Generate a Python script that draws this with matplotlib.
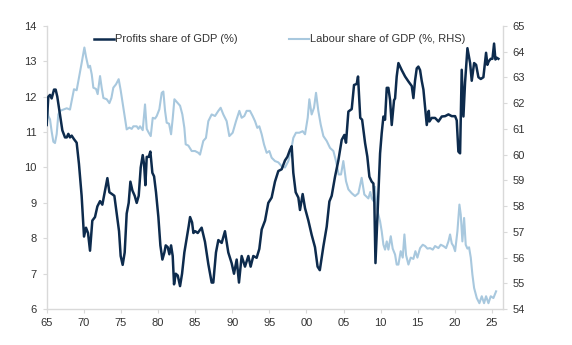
import numpy as np
import matplotlib.pyplot as plt

plt.rcParams['font.family'] = ['Liberation Sans', 'DejaVu Sans']

# Profits share of GDP (%), left axis
profit_year = [1965.0, 1965.22, 1965.45, 1965.67, 1965.99, 1966.21, 1966.43, 1966.79, 1967.11, 1967.47,
               1967.7, 1967.92, 1968.14, 1968.37, 1968.68, 1969.04, 1969.35, 1969.71, 1970.03, 1970.3,
               1970.57, 1970.84, 1971.15, 1971.51, 1971.83, 1972.19, 1972.5, 1972.82, 1973.18, 1973.45,
               1973.8, 1974.12, 1974.43, 1974.75, 1974.97, 1975.24, 1975.51, 1975.78, 1976.05, 1976.28,
               1976.55, 1976.86, 1977.13, 1977.4, 1977.67, 1977.94, 1978.12, 1978.3, 1978.48, 1978.75,
               1978.97, 1979.24, 1979.47, 1979.73, 1980.05, 1980.32, 1980.59, 1980.86, 1981.04, 1981.31,
               1981.53, 1981.76, 1981.98, 1982.16, 1982.39, 1982.66, 1982.97, 1983.24, 1983.55, 1983.87,
               1984.14, 1984.32, 1984.59, 1984.77, 1985.03, 1985.35, 1985.88, 1986.33, 1986.78, 1987.23,
               1987.45, 1987.81, 1988.13, 1988.58, 1989.02, 1989.47, 1989.92, 1990.24, 1990.6, 1990.91,
               1991.27, 1991.72, 1992.17, 1992.48, 1992.84, 1993.29, 1993.65, 1993.97, 1994.42, 1994.86,
               1995.31, 1995.76, 1996.21, 1996.66, 1997.11, 1997.43, 1997.78, 1998.01, 1998.23, 1998.55,
               1998.91, 1999.13, 1999.49, 1999.81, 2000.26, 2000.7, 2001.15, 2001.5, 2001.8, 2002.28,
               2002.73, 2003.09, 2003.4, 2003.85, 2004.3, 2004.75, 2005.11, 2005.33, 2005.65, 2006.1,
               2006.41, 2006.77, 2006.95, 2007.25, 2007.5, 2007.9, 2008.2, 2008.48, 2008.79, 2009.02,
               2009.15, 2009.3, 2009.5, 2009.65, 2009.92, 2010.14, 2010.37, 2010.59, 2010.82, 2011.04,
               2011.27, 2011.49, 2011.8, 2011.94, 2012.16, 2012.39, 2012.61, 2012.84, 2013.29, 2013.74,
               2014.19, 2014.41, 2014.63, 2014.86, 2015.08, 2015.31, 2015.53, 2015.76, 2015.98, 2016.21,
               2016.34, 2016.48, 2016.57, 2016.88, 2017.33, 2017.78, 2018.23, 2018.68, 2019.13, 2019.58,
               2020.03, 2020.25, 2020.47, 2020.7, 2020.92, 2021.15, 2021.37, 2021.69, 2022.05, 2022.27,
               2022.59, 2022.86, 2023.17, 2023.49, 2023.84, 2024.2, 2024.38, 2024.56, 2024.83, 2025.06,
               2025.28, 2025.46, 2025.64, 2025.86]
profit_share = [11.2, 12.0, 12.05, 11.95, 12.2, 12.2, 12.0, 11.5, 11.05, 10.85,
                10.85, 10.95, 10.85, 10.9, 10.8, 10.7, 10.1, 9.2, 8.05, 8.3,
                8.15, 7.65, 8.5, 8.6, 8.9, 9.05, 8.95, 9.3, 9.7, 9.3,
                9.25, 9.2, 8.7, 8.2, 7.5, 7.25, 7.6, 8.7, 9.0, 9.6,
                9.35, 9.2, 9.0, 9.2, 10.0, 10.35, 10.1, 9.5, 10.3, 10.3,
                10.45, 9.85, 9.75, 9.3, 8.6, 7.8, 7.4, 7.6, 7.8, 7.75,
                7.55, 7.8, 7.5, 6.7, 7.0, 6.95, 6.65, 7.0, 7.6, 8.0,
                8.35, 8.6, 8.45, 8.15, 8.2, 8.15, 8.3, 7.9, 7.27, 6.75,
                6.75, 7.6, 7.95, 7.87, 8.2, 7.6, 7.3, 7.0, 7.4, 6.75,
                7.5, 7.2, 7.5, 7.2, 7.5, 7.45, 7.7, 8.25, 8.5, 9.0,
                9.15, 9.6, 9.9, 9.95, 10.2, 10.3, 10.5, 10.6, 9.85, 9.3,
                9.15, 8.8, 9.25, 8.85, 8.5, 8.1, 7.75, 7.2, 7.1, 7.77,
                8.33, 9.04, 9.2, 9.74, 10.2, 10.78, 10.92, 10.7, 11.58, 11.65,
                12.33, 12.36, 12.57, 11.4, 11.35, 10.69, 10.31, 9.74, 9.6, 9.55,
                9.0, 7.3, 8.3, 9.1, 10.4, 10.97, 11.44, 11.35, 12.25, 12.25,
                11.9, 11.2, 11.9, 11.95, 12.57, 12.95, 12.85, 12.75, 12.57, 12.43,
                12.3, 11.96, 12.45, 12.8, 12.85, 12.75, 12.45, 12.2, 11.72, 11.2,
                11.4, 11.6, 11.3, 11.4, 11.4, 11.3, 11.44, 11.45, 11.5, 11.45,
                11.45, 11.33, 10.45, 10.4, 12.76, 11.44, 12.4, 13.37, 12.95, 12.45,
                12.95, 12.9, 12.55, 12.5, 12.55, 13.24, 12.9, 13.0, 13.07, 13.07,
                13.5, 13.05, 13.1, 13.07]

# Labour share of GDP (%), right axis
labour_year = [1965.0, 1965.22, 1965.45, 1965.67, 1965.9, 1966.12, 1966.35, 1966.57, 1966.8, 1967.25,
               1967.7, 1968.14, 1968.37, 1968.68, 1969.04, 1969.27, 1969.72, 1970.08, 1970.3, 1970.62,
               1970.84, 1971.07, 1971.29, 1971.65, 1971.87, 1972.19, 1972.41, 1972.64, 1973.09, 1973.45,
               1973.72, 1973.98, 1974.34, 1974.7, 1974.97, 1975.24, 1975.56, 1975.78, 1976.14, 1976.46,
               1976.68, 1977.13, 1977.36, 1977.58, 1977.94, 1978.25, 1978.48, 1978.75, 1979.02, 1979.29,
               1979.6, 1979.83, 1980.18, 1980.5, 1980.72, 1980.95, 1981.17, 1981.49, 1981.76, 1981.98,
               1982.21, 1982.52, 1982.97, 1983.28, 1983.55, 1983.73, 1984.09, 1984.54, 1984.99, 1985.44,
               1985.66, 1985.88, 1986.1, 1986.46, 1986.78, 1987.23, 1987.68, 1988.13, 1988.44, 1988.8,
               1989.25, 1989.61, 1990.06, 1990.51, 1990.96, 1991.27, 1991.63, 1991.94, 1992.39, 1992.75,
               1993.07, 1993.38, 1993.65, 1993.97, 1994.28, 1994.64, 1995.0, 1995.31, 1995.76, 1996.21,
               1996.66, 1997.11, 1997.56, 1997.87, 1998.23, 1998.59, 1999.04, 1999.49, 1999.81, 2000.17,
               2000.39, 2000.7, 2001.02, 2001.29, 2001.6, 2001.92, 2002.28, 2002.73, 2003.18, 2003.63,
               2003.98, 2004.34, 2004.66, 2004.97, 2005.33, 2005.65, 2006.1, 2006.55, 2007.0, 2007.44,
               2007.8, 2008.34, 2008.6, 2008.8, 2009.02, 2009.24, 2009.47, 2009.69, 2009.92, 2010.14,
               2010.37, 2010.59, 2010.82, 2011.04, 2011.36, 2011.62, 2011.94, 2012.16, 2012.39, 2012.7,
               2012.97, 2013.2, 2013.42, 2013.74, 2014.05, 2014.41, 2014.68, 2014.95, 2015.31, 2015.67,
               2015.98, 2016.3, 2016.66, 2017.02, 2017.33, 2017.78, 2018.09, 2018.45, 2018.81, 2019.13,
               2019.35, 2019.58, 2019.8, 2020.03, 2020.34, 2020.61, 2020.79, 2021.01, 2021.24, 2021.46,
               2021.69, 2021.91, 2022.14, 2022.36, 2022.59, 2022.95, 2023.3, 2023.62, 2023.93, 2024.2,
               2024.52, 2024.83, 2025.19, 2025.55]
labour_share = [62.0, 61.5, 61.37, 60.9, 60.5, 60.45, 60.8, 61.56, 61.7, 61.75,
                61.8, 61.75, 62.08, 62.54, 62.5, 62.86, 63.57, 64.16, 63.8, 63.38,
                63.45, 63.12, 62.6, 62.55, 62.35, 63.05, 62.6, 62.2, 62.15, 62.0,
                62.2, 62.6, 62.73, 62.93, 62.5, 62.0, 61.43, 60.98, 61.05, 61.0,
                61.1, 61.1, 61.0, 61.1, 60.95, 61.95, 61.0, 60.85, 60.72, 61.43,
                61.4, 61.5, 61.76, 62.4, 62.45, 61.7, 61.24, 61.2, 60.79, 61.4,
                62.15, 62.05, 61.9, 61.56, 61.04, 60.4, 60.35, 60.14, 60.14, 60.07,
                60.0, 60.26, 60.53, 60.65, 61.3, 61.56, 61.5, 61.7, 61.82, 61.56,
                61.3, 60.72, 60.85, 61.3, 61.7, 61.43, 61.5, 61.7, 61.7, 61.5,
                61.3, 61.04, 61.1, 60.79, 60.4, 60.07, 60.14, 59.88, 59.75, 59.7,
                59.55, 59.5, 59.75, 60.07, 60.65, 60.85, 60.85, 60.91, 60.79, 61.43,
                62.15, 61.56, 61.82, 62.4, 61.7, 61.17, 60.72, 60.53, 60.26, 60.14,
                59.75, 59.23, 59.23, 59.75, 58.97, 58.65, 58.5, 58.39, 58.5, 59.1,
                58.45, 58.3, 58.55, 58.3, 58.2, 58.75, 57.93, 57.67, 57.41, 57.02,
                56.5, 56.31, 56.63, 56.31, 56.83, 56.35, 56.12, 55.73, 55.73, 56.25,
                56.0, 56.9, 56.1, 55.73, 56.0, 55.95, 56.25, 56.0, 56.37, 56.5,
                56.45, 56.35, 56.37, 56.31, 56.45, 56.37, 56.5, 56.45, 56.37, 56.63,
                56.9, 56.55, 56.45, 56.25, 57.02, 58.06, 57.67, 56.63, 57.54, 56.5,
                56.35, 56.4, 56.0, 55.34, 54.82, 54.43, 54.23, 54.5, 54.23, 54.5,
                54.23, 54.5, 54.43, 54.69]

xtick_pos = [1965, 1970, 1975, 1980, 1985, 1990, 1995, 2000, 2005, 2010, 2015, 2020, 2025]
xtick_lab = ['65', '70', '75', '80', '85', '90', '95', '00', '05', '10', '15', '20', '25']

dark = '#0d2b4d'
light = '#a8c8de'
spine_col = '#d9d9d9'
text_col = '#333333'

fig = plt.figure(figsize=(5.72, 3.45), dpi=100)
ax = fig.add_axes([0.0816, 0.104, 0.798, 0.821])
ax2 = ax.twinx()

l1, = ax.plot(profit_year, profit_share, color=dark, lw=1.8, label='Profits share of GDP (%)', zorder=3)
l2, = ax2.plot(labour_year, labour_share, color=light, lw=1.5, label='Labour share of GDP (%, RHS)')
ax.set_zorder(ax2.get_zorder() + 1)
ax.patch.set_visible(False)

ax.set_xlim(1965, 2026.5)
ax.set_ylim(6, 14)
ax2.set_ylim(54, 65)
ax.set_yticks(range(6, 15))
ax2.set_yticks(range(54, 66))
ax.set_xticks(xtick_pos)
ax.set_xticklabels(xtick_lab)

for a in (ax, ax2):
    for s in a.spines.values():
        s.set_color(spine_col)
        s.set_linewidth(1.0)
    a.spines['top'].set_visible(False)
    a.tick_params(colors=spine_col, labelcolor=text_col, labelsize=8, length=3, width=0.8)
ax.spines['right'].set_visible(False)
ax2.spines['left'].set_visible(False)
ax2.spines['bottom'].set_visible(False)
ax.tick_params(axis='y', pad=4)
ax2.tick_params(axis='y', pad=4)

ax.legend(handles=[l1, l2], loc='upper center', bbox_to_anchor=(0.51, 1.005), ncol=2, frameon=False,
          fontsize=8, handlelength=1.8, handletextpad=0.1, columnspacing=4.6, labelcolor=text_col)

fig.savefig('out.png', dpi=100)
